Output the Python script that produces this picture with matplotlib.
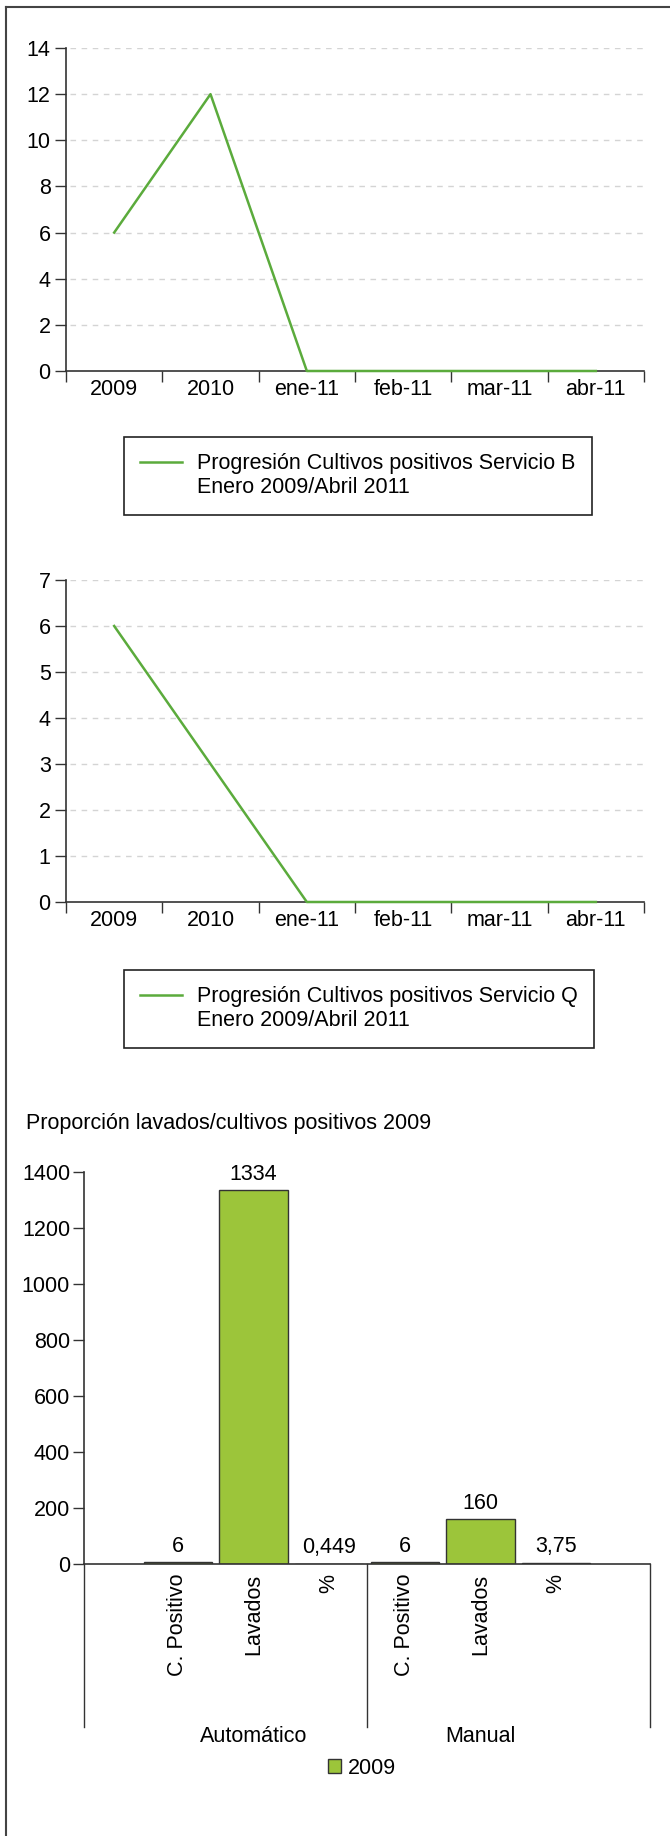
import matplotlib
matplotlib.use("Agg")
import matplotlib.pyplot as plt
from matplotlib.lines import Line2D
from matplotlib.patches import Patch

plt.rcParams['font.family'] = ['Liberation Sans', 'DejaVu Sans']
plt.rcParams['font.size'] = 15.5

# series de cultivos positivos
periodos = ['2009', '2010', 'ene-11', 'feb-11', 'mar-11', 'abr-11']
servicio_b = [6, 12, 0, 0, 0, 0]
servicio_q = [6, 3, 0, 0, 0, 0]

# proporcion lavados / cultivos positivos 2009
grupos = ['Automático', 'Manual']
categorias = ['C. Positivo', 'Lavados', '%', 'C. Positivo', 'Lavados', '%']
valores_2009 = [6, 1334, 0.449, 6, 160, 3.75]

W, H = 670, 1836
VERDE = '#5bab3c'
BARRA = '#9cc53a'
GRIS = '#333333'

fig = plt.figure(figsize=(W / 100, H / 100), dpi=100)


def caja(x0, y0, x1, y1):
    # rectangulo en pixeles (origen arriba a la izquierda) -> fraccion de figura
    return [x0 / W, 1 - y1 / H, (x1 - x0) / W, (y1 - y0) / H]


def grafico_linea(rect, valores, ymax, leyenda, ley_y):
    ax = fig.add_axes(rect)
    x = list(range(len(periodos)))
    linea, = ax.plot(x, valores, color=VERDE, lw=1.8, clip_on=False, zorder=5)
    ax.set_xlim(-0.5, len(periodos) - 0.5)
    ax.set_ylim(0, ymax)
    ax.set_yticks(range(0, ymax + 1, 2 if ymax > 10 else 1))
    for v in ax.get_yticks()[1:]:
        ax.axhline(v, xmin=0.007, color='#d4d4d4', lw=1, ls=(0, (4, 4)), zorder=0)
    ax.set_xticks([i - 0.5 for i in range(len(periodos) + 1)])
    ax.set_xticklabels([])
    ax.set_xticks(x, minor=True)
    ax.set_xticklabels(periodos, minor=True)
    ax.tick_params(axis='x', which='major', length=8, width=1, color=GRIS)
    ax.tick_params(axis='x', which='minor', length=0, pad=6)
    ax.tick_params(axis='y', length=8, width=1, color=GRIS, pad=3)
    for s in ('top', 'right'):
        ax.spines[s].set_visible(False)
    for s in ('left', 'bottom'):
        ax.spines[s].set_color(GRIS)
        ax.spines[s].set_linewidth(1.2)
    vacio = Line2D([], [], color='none')
    ax.legend([linea, vacio], leyenda, loc='upper left',
              bbox_to_anchor=(124 / W, 1 - ley_y / H), bbox_transform=fig.transFigure,
              frameon=True, fancybox=False, edgecolor='#222222', framealpha=1,
              handlelength=1.95, handletextpad=0.7, borderpad=0.75, labelspacing=0.15,
              borderaxespad=0)
    ax.get_legend().get_frame().set_linewidth(1.2)
    return ax


grafico_linea(caja(66, 48, 644, 371), servicio_b, 14,
              ['Progresión Cultivos positivos Servicio B', 'Enero 2009/Abril 2011'], 437)
grafico_linea(caja(66, 580, 644, 902), servicio_q, 7,
              ['Progresión Cultivos positivos Servicio Q', 'Enero 2009/Abril 2011'], 970)

# grafico de barras
fig.text(26 / W, 1 - 1123 / H, 'Proporción lavados/cultivos positivos 2009',
         ha='left', va='center')
ax = fig.add_axes(caja(84, 1172, 650, 1564))
pos = list(range(len(valores_2009)))
barras = ax.bar(pos, valores_2009, width=0.9, color=BARRA, edgecolor=GRIS, lw=1,
                label='2009')
etiquetas = [f'{v:g}'.replace('.', ',') for v in valores_2009]
ax.bar_label(barras, labels=etiquetas, padding=4)
ax.set_xlim(-1.24, len(pos) - 1 + 1.24)
ax.set_ylim(0, 1400)
ax.set_yticks(range(0, 1401, 200))
ax.set_xticks(pos, categorias, rotation=90, va='top')
ax.tick_params(axis='x', length=0, pad=7)
ax.tick_params(axis='y', length=8, width=1, color=GRIS, pad=2)
for s in ('top', 'right'):
    ax.spines[s].set_visible(False)
for s in ('left', 'bottom'):
    ax.spines[s].set_color(GRIS)
    ax.spines[s].set_linewidth(1.2)

# separadores y nombres de grupo
alto = 163 / 392
tr = ax.get_xaxis_transform()
xmin, xmax = ax.get_xlim()
for xs in (xmin, 2.5, xmax):
    ax.plot([xs, xs], [0, -alto], color=GRIS, lw=1, transform=tr, clip_on=False)
for i, g in enumerate(grupos):
    ax.text(1 + 3 * i, -(1736 - 1564) / 392, g, transform=tr, ha='center', va='center')

ax.legend(handles=[Patch(facecolor=BARRA, edgecolor=GRIS, label='2009')],
          loc='center', bbox_to_anchor=(362 / W, 1 - 1768 / H),
          bbox_transform=fig.transFigure, frameon=False,
          handlelength=0.6, handleheight=0.6, handletextpad=0.3)

# marco superior e izquierdo
fig.add_artist(Line2D([6 / W, 6 / W], [0, 1 - 7 / H], color='#444444', lw=1.5))
fig.add_artist(Line2D([6 / W, 1], [1 - 7 / H, 1 - 7 / H], color='#444444', lw=1.5))

fig.savefig('out.png', dpi=100)
